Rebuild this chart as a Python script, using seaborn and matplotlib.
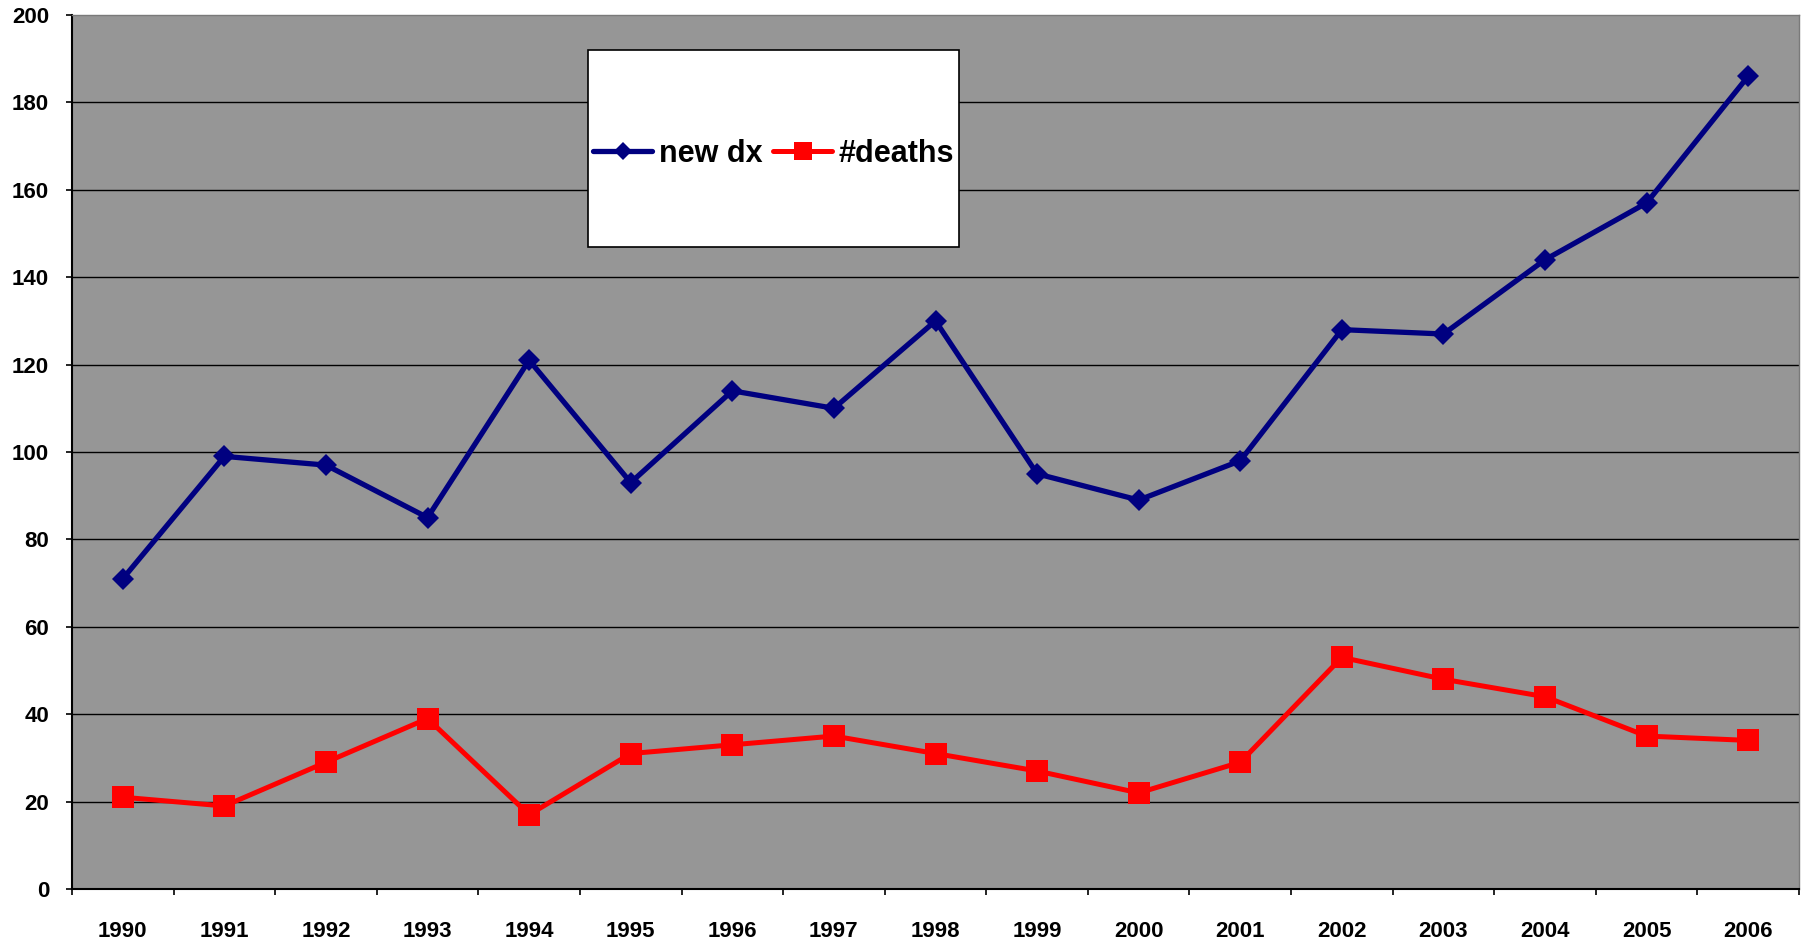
import numpy as np
import pandas as pd
import matplotlib
matplotlib.use("Agg")
import matplotlib.pyplot as plt
import seaborn as sns
from matplotlib.patches import Rectangle
from matplotlib.ticker import FixedLocator, FixedFormatter, NullFormatter

# Yearly counts
years = list(range(1990, 2007))
new_dx = [71, 99, 97, 85, 121, 93, 114, 110, 130, 95, 89, 98, 128, 127, 144, 157, 186]
deaths = [21, 19, 29, 39, 17, 31, 33, 35, 31, 27, 22, 29, 53, 48, 44, 35, 34]
y_ticks = list(range(0, 201, 20))
year_labels = [str(y) for y in years]

sns.set_style("white")
plt.rcParams["font.family"] = ["Liberation Sans", "DejaVu Sans"]
plt.rcParams["font.weight"] = "bold"
plt.rcParams["text.color"] = "black"

W, H = 1806, 946
fig = plt.figure(figsize=(W / 100, H / 100), dpi=100)
ax = fig.add_axes([72 / W, 57 / H, 1727 / W, 874 / H])
ax.set_facecolor("#969696")

df = pd.DataFrame({"year": years, "new dx": new_dx, "#deaths": deaths})

NAVY = "#000080"
RED = "#ff0000"

sns.lineplot(data=df, x="year", y="new dx", ax=ax, color=NAVY, lw=3.8,
             marker="D", markersize=11, markeredgewidth=0, markerfacecolor=NAVY,
             label="new dx", zorder=4)
sns.lineplot(data=df, x="year", y="#deaths", ax=ax, color=RED, lw=3.6,
             marker="s", markersize=16, markeredgewidth=0, markerfacecolor=RED,
             label="#deaths", zorder=4)

# Horizontal gridlines
for t in y_ticks[1:-1]:
    ax.axhline(t, color="black", lw=1.0, zorder=1)

ax.set_ylim(0, 200)
ax.set_yticks(y_ticks)
ax.set_xlim(1989.5, 2006.5)

# Category boundaries carry the tick marks, year centres carry the labels
ax.xaxis.set_major_locator(FixedLocator(np.arange(1989.5, 2007, 1.0)))
ax.xaxis.set_major_formatter(NullFormatter())
ax.xaxis.set_minor_locator(FixedLocator(years))
ax.xaxis.set_minor_formatter(FixedFormatter(year_labels))

ax.tick_params(axis="x", which="major", direction="out", length=4.5, width=1.2,
               color="black", bottom=True)
ax.tick_params(axis="x", which="minor", length=0, pad=23, labelsize=16,
               labelcolor="black", bottom=True)
ax.tick_params(axis="y", which="major", direction="out", length=4.5, width=1.2,
               color="black", pad=12, labelsize=16, labelcolor="black", left=True)
for lbl in ax.get_xticklabels(minor=True) + ax.get_yticklabels():
    lbl.set_fontweight("bold")

ax.set_xlabel("")
ax.set_ylabel("")

for side in ("left", "bottom"):
    ax.spines[side].set_color("black")
    ax.spines[side].set_linewidth(1.5)
for side in ("top", "right"):
    ax.spines[side].set_color("#7a7a7a")
    ax.spines[side].set_linewidth(1.0)

# Legend inside a fixed white box
bx0, by0 = (588 - 72) / 1727, (889 - 247) / 874
bw, bh = (959 - 588) / 1727, (247 - 50) / 874
ax.add_patch(Rectangle((bx0, by0), bw, bh, transform=ax.transAxes,
                       facecolor="white", edgecolor="black", lw=1.2, zorder=6))
handles, labels = ax.get_legend_handles_labels()
leg = ax.legend(handles, labels, loc="center",
                bbox_to_anchor=(bx0 + bw / 2, by0 + bh / 2 - 0.006),
                ncol=2, frameon=False,
                prop={"weight": "bold", "size": 22}, labelcolor="black",
                handlelength=1.95, handletextpad=0.2, columnspacing=0.35,
                markerscale=0.8, borderaxespad=0)
leg.set_zorder(7)

fig.savefig("out.png", dpi=100, facecolor="white")
